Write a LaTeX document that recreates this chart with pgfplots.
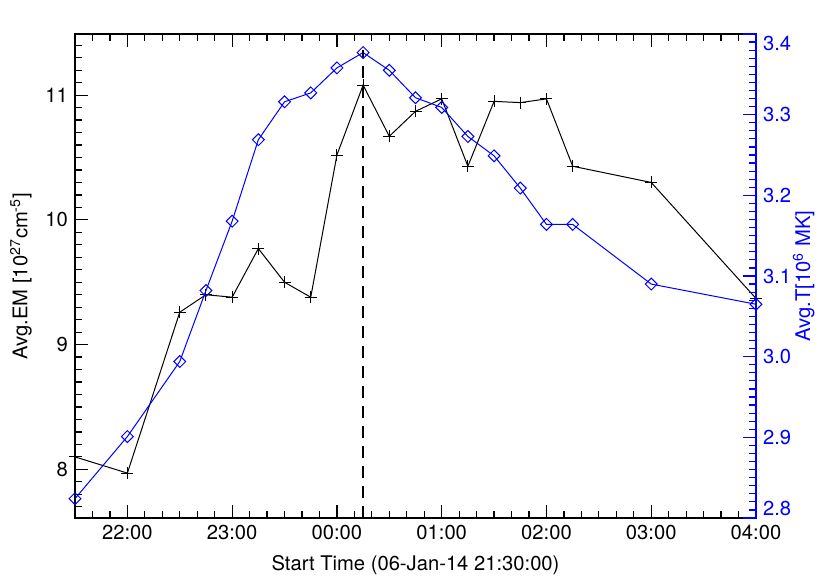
\documentclass[border=0pt]{standalone}
\usepackage{fontspec}
\setmainfont{TeX Gyre Heros}
\usepackage{pgfplots}
\pgfplotsset{compat=1.18}
\definecolor{tblue}{RGB}{0,0,255}

\pgfplotstableread{
x em
0 8.10
30 7.97
60 9.26
75 9.40
90 9.38
105 9.77
120 9.50
135 9.38
150 10.52
165 11.08
180 10.67
195 10.87
210 10.97
225 10.43
240 10.95
255 10.94
270 10.97
285 10.43
330 10.30
390 9.37
}\emdata

\pgfplotstableread{
x t
0 2.824
30 2.901
60 2.994
75 3.082
90 3.168
105 3.269
120 3.316
135 3.327
150 3.358
165 3.377
180 3.355
195 3.321
210 3.309
225 3.273
240 3.249
255 3.209
270 3.164
285 3.164
330 3.090
390 3.065
}\tdata

\begin{document}
\begin{tikzpicture}
\pgfplotsset{
  common/.style={
    width=340.5pt, height=242pt, scale only axis,
    xmin=0, xmax=390,
    tick align=inside,
    major tick length=6.5pt, minor tick length=3.5pt,
    every tick/.style={line width=0.6pt},
    axis line style={line width=0.7pt},
    font=\fontsize{10.1pt}{12pt}\selectfont,
    /pgf/number format/assume math mode=true,
  }
}
\begin{axis}[common, name=ax,
  ymin=7.61, ymax=11.49,
  ytick={8,9,10,11},
  minor ytick={7.7,7.8,7.9,8.1,8.2,8.3,8.4,8.5,8.6,8.7,8.8,8.9,9.1,9.2,9.3,9.4,9.5,9.6,9.7,9.8,9.9,10.1,10.2,10.3,10.4,10.5,10.6,10.7,10.8,10.9,11.1,11.2,11.3,11.4},
  ytick pos=left,
  xtick={30,90,150,210,270,330,390},
  xticklabels={22:00,23:00,00:00,01:00,02:00,03:00,04:00},
  minor xtick={10,20,40,50,60,70,80,100,110,120,130,140,160,170,180,190,200,220,230,240,250,260,280,290,300,310,320,340,350,360,370,380},
  xtick pos=both,
  ylabel={Avg.EM [10\textsuperscript{27}cm\textsuperscript{-5}]},
  xlabel={Start Time (06-Jan-14 21:30:00)},
  xlabel style={yshift=-1pt},
]
\addplot[black, line width=0.5pt, mark=+, mark size=3pt] table[x=x, y=em] {\emdata};
\end{axis}
\begin{axis}[common,
  axis y line*=right, axis x line=none,
  ymin=2.8, ymax=3.4,
  ytick={2.8,2.9,3.0,3.1,3.2,3.3,3.4},
  yticklabels={\raisebox{4.6pt}[0.7em][0pt]{2.8},2.9,3.0,3.1,3.2,3.3,\raisebox{-4.6pt}[0.7em][0pt]{3.4}},
  minor ytick={2.81,2.82,2.83,2.84,2.85,2.86,2.87,2.88,2.89,2.91,2.92,2.93,2.94,2.95,2.96,2.97,2.98,2.99,3.01,3.02,3.03,3.04,3.05,3.06,3.07,3.08,3.09,3.11,3.12,3.13,3.14,3.15,3.16,3.17,3.18,3.19,3.21,3.22,3.23,3.24,3.25,3.26,3.27,3.28,3.29,3.31,3.32,3.33,3.34,3.35,3.36,3.37,3.38,3.39},
  yticklabel style={tblue},
  y axis line style={tblue},
  every y tick/.append style={tblue},
  every minor y tick/.append style={tblue},
  ylabel={Avg.T[10\textsuperscript{6} MK]},
  ylabel style={tblue},
  ylabel shift=-6pt,
]
\addplot[tblue, line width=0.5pt, mark=square, mark size=2.1pt, mark options={rotate=45}] table[x=x, y=t] {\tdata};
\addplot[black, line width=0.8pt, dash pattern=on 6pt off 4pt] coordinates {(165,2.8) (165,3.38)};
\end{axis}
\pgfresetboundingbox
\path ([shift={(-37.5pt,-34.5pt)}]ax.south west) rectangle ([shift={(33pt,17pt)}]ax.north east);
\end{tikzpicture}
\end{document}
